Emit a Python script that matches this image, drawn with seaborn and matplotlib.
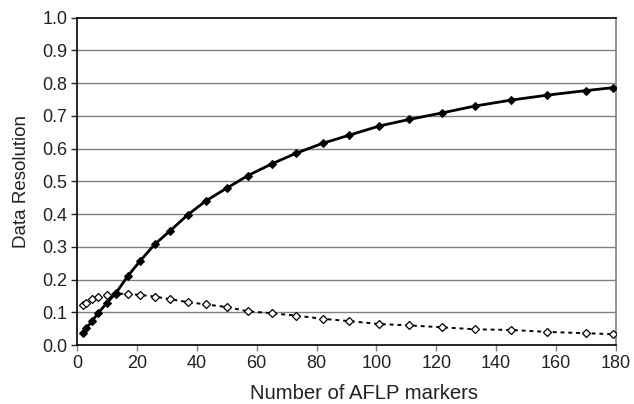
import matplotlib
matplotlib.use("Agg")
import matplotlib.pyplot as plt
import seaborn as sns
import pandas as pd

# number of AFLP markers sampled
n_markers = [2, 3, 5, 7, 10, 13, 17, 21, 26, 31, 37, 43, 50, 57, 65, 73,
             82, 91, 101, 111, 122, 133, 145, 157, 170, 179]

# solid curve (filled diamonds)
resolution_main = [0.038, 0.051, 0.072, 0.097, 0.129, 0.159, 0.211, 0.256,
                   0.308, 0.348, 0.398, 0.440, 0.479, 0.517, 0.553, 0.585,
                   0.616, 0.641, 0.669, 0.689, 0.709, 0.730, 0.748, 0.763,
                   0.777, 0.786]

# dotted curve (open diamonds)
resolution_other = [0.122, 0.129, 0.140, 0.147, 0.153, 0.157, 0.156, 0.153,
                    0.148, 0.140, 0.131, 0.124, 0.116, 0.103, 0.097, 0.090,
                    0.080, 0.073, 0.064, 0.060, 0.054, 0.048, 0.046, 0.040,
                    0.036, 0.033]

x_ticks = [0, 20, 40, 60, 80, 100, 120, 140, 160, 180]
y_ticks = [0.0, 0.1, 0.2, 0.3, 0.4, 0.5, 0.6, 0.7, 0.8, 0.9, 1.0]

sns.set_style("white")
plt.rcParams["font.family"] = ["Liberation Sans", "DejaVu Sans"]

df = pd.DataFrame({"markers": n_markers,
                   "main": resolution_main,
                   "other": resolution_other})

fig = plt.figure(figsize=(6.34, 4.04), dpi=100)
ax = fig.add_axes([0.1215, 0.146, 0.85, 0.8105])

# horizontal grid lines
for yv in y_ticks[1:-1]:
    ax.axhline(yv, color="#808080", lw=1.0, zorder=0)

sns.lineplot(data=df, x="markers", y="other", ax=ax, color="black",
             lw=1.4, linestyle=(0, (2, 2)), marker="D", markersize=4.5,
             markerfacecolor="white", markeredgecolor="black",
             markeredgewidth=0.9, zorder=3)
sns.lineplot(data=df, x="markers", y="main", ax=ax, color="black",
             lw=2.0, marker="D", markersize=4.2, markerfacecolor="black",
             markeredgecolor="black", zorder=4)

ax.set_xlim(0, 180)
ax.set_ylim(0, 1.0)
ax.set_xticks(x_ticks)
ax.set_yticks(y_ticks)
ax.set_yticklabels([f"{v:.1f}" for v in y_ticks])
ax.tick_params(axis="both", labelsize=13, colors="#222222", length=4,
               width=1, direction="out", left=True, bottom=True, pad=3)
ax.tick_params(axis="x", color="#808080")

for side in ["left", "bottom", "top"]:
    ax.spines[side].set_color("black")
    ax.spines[side].set_linewidth(1.2)
ax.spines["right"].set_color("#808080")
ax.spines["right"].set_linewidth(1.2)

ax.set_xlabel("Number of AFLP markers", fontsize=14.6, color="#222222")
ax.set_ylabel("Data Resolution", fontsize=13.5, color="#222222")
ax.xaxis.set_label_coords(0.533, -0.12)
ax.yaxis.set_label_coords(-0.087, 0.5)

fig.savefig("out.png", dpi=100)
